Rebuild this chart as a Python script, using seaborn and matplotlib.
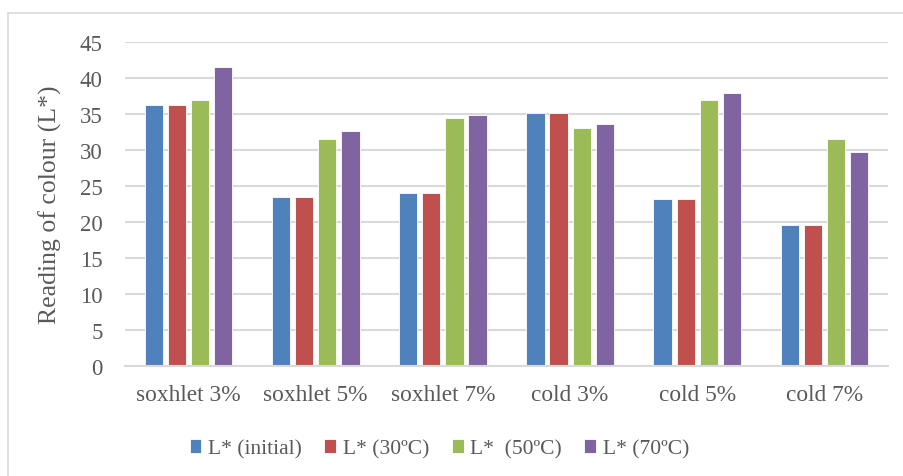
import matplotlib
matplotlib.use("Agg")
import matplotlib.pyplot as plt
from matplotlib.patches import Rectangle
import seaborn as sns
import pandas as pd

categories = ["soxhlet 3%", "soxhlet 5%", "soxhlet 7%", "cold 3%", "cold 5%", "cold 7%"]
series_names = ["L* (initial)", "L* (30ºC)", "L*  (50ºC)", "L* (70ºC)"]
l_initial = [36.3, 23.5, 24.0, 35.1, 23.2, 19.6]
l_30 = [36.3, 23.5, 24.0, 35.1, 23.2, 19.6]
l_50 = [36.9, 31.5, 34.4, 33.1, 36.9, 31.5]
l_70 = [41.5, 32.6, 34.9, 33.6, 37.9, 29.7]
y_ticks = [0, 5, 10, 15, 20, 25, 30, 35, 40, 45]
colors = ["#4F81BD", "#C0504D", "#9BBB59", "#8064A2"]

rows = []
for name, vals in zip(series_names, [l_initial, l_30, l_50, l_70]):
    for cat, v in zip(categories, vals):
        rows.append({"sample": cat, "series": name, "L": v})
df = pd.DataFrame(rows)

sns.set_theme(style="white")
plt.rcParams["font.family"] = ["Liberation Serif", "DejaVu Serif"]

fig = plt.figure(figsize=(9.04, 4.77), dpi=100)
ax = fig.add_axes([125 / 904, 1 - 367 / 477, (888 - 125) / 904, (367 - 43) / 477])

sns.barplot(data=df, x="sample", y="L", hue="series", order=categories,
            hue_order=series_names, palette=colors, width=0.727, gap=0.21,
            saturation=1, edgecolor="#FFFFFF", linewidth=0.6, ax=ax, legend=True)

ax.set_ylim(0, 45)
ax.set_yticks(y_ticks)
ax.yaxis.grid(True, color="#D9D9D9", linewidth=1.5)
ax.set_axisbelow(True)
for side in ["top", "right", "left"]:
    ax.spines[side].set_visible(False)
ax.spines["bottom"].set_color("#D9D9D9")
ax.spines["bottom"].set_linewidth(1.5)
ax.tick_params(axis="both", length=0, colors="#595959")
ax.tick_params(axis="y", labelsize=16.5, pad=16)
ax.tick_params(axis="x", labelsize=16.8, pad=13)
ax.set_xlabel("")
ax.set_ylabel("Reading of colour (L*)", fontsize=18.5, color="#595959")
ax.yaxis.set_label_coords(-0.083, 0.5)

handles, labels = ax.get_legend_handles_labels()
ax.legend_.remove()
fig.legend(handles, labels, loc="center", bbox_to_anchor=(0.486, 1 - 450 / 477),
           ncol=4, frameon=False, fontsize=15.5, labelcolor="#595959",
           handlelength=0.55, handleheight=0.6, handletextpad=0.3,
           columnspacing=1.05)

fig.patches.append(Rectangle((7.5 / 904, -0.01), 1.0, 1 - 14 / 477 + 0.01,
                             transform=fig.transFigure, fill=False,
                             edgecolor="#D9D9D9", linewidth=1.2))

fig.savefig("out.png", dpi=100)
